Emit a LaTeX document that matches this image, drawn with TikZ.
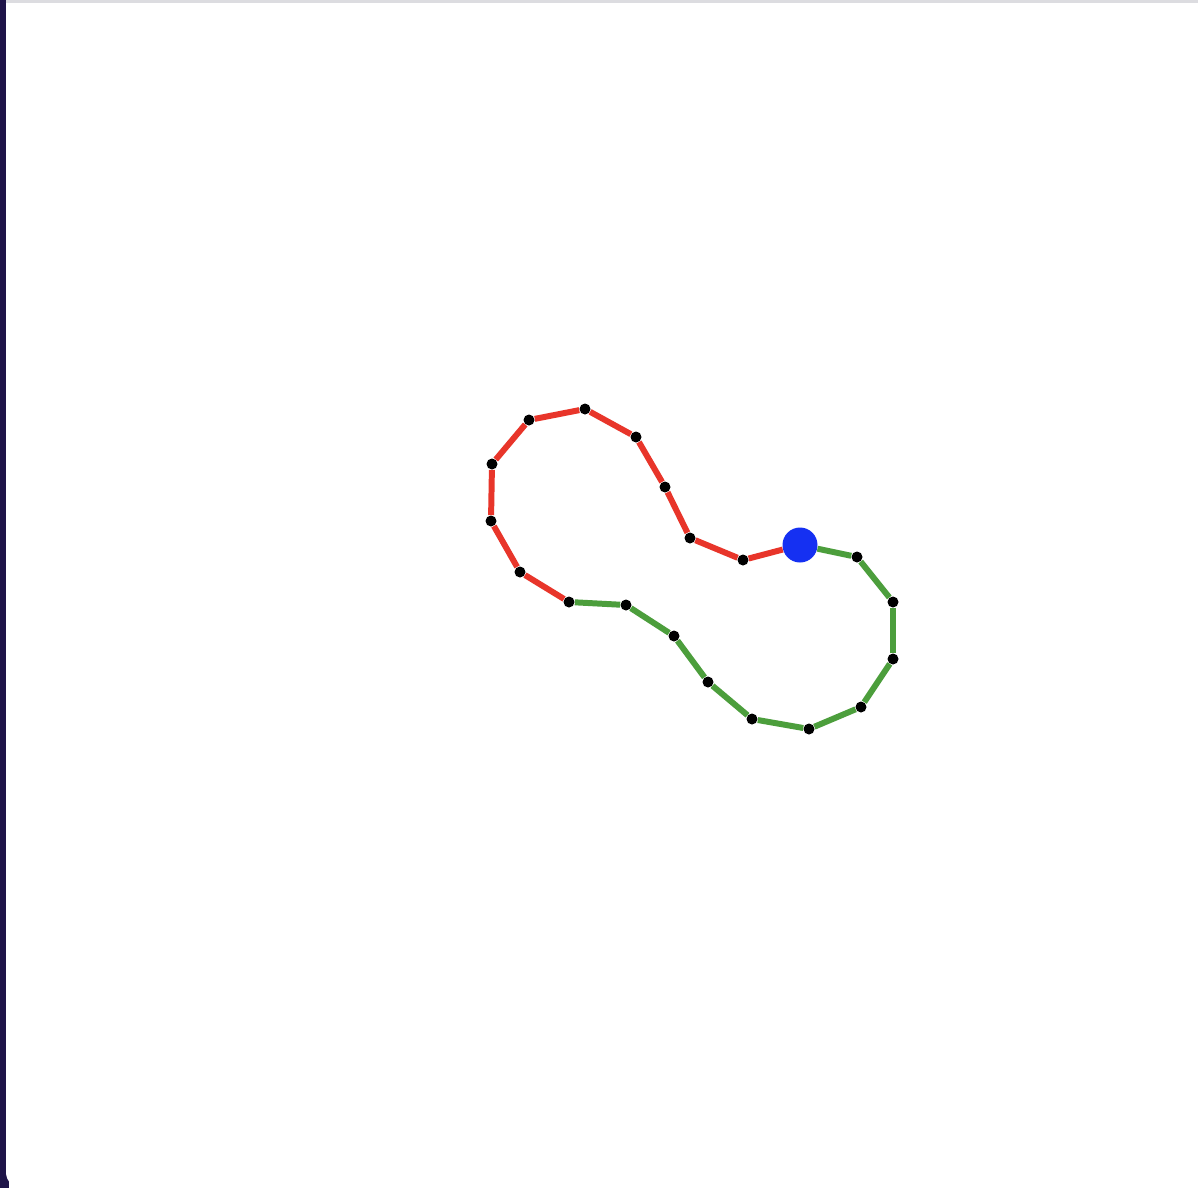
\documentclass[tikz,border=0pt]{standalone}
\usepackage{tikz}
\usepackage{xcolor}

\definecolor{loopred}{HTML}{E8352A}
\definecolor{loopgreen}{HTML}{4C9E3C}
\definecolor{startblue}{HTML}{1530F2}
\definecolor{frameleft}{HTML}{1E1448}
\definecolor{frametop}{HTML}{DCDCE0}

\begin{document}
\begin{tikzpicture}[
  x=0.02cm, y=-0.02cm,
  dot/.style={circle, fill=black, inner sep=0pt, minimum size=0.22cm},
  start/.style={circle, fill=startblue, inner sep=0pt, minimum size=0.7cm},
  redseg/.style={draw=loopred, line width=3.4pt},
  greenseg/.style={draw=loopgreen, line width=3.4pt}
]
% frame
\useasboundingbox (0,0) rectangle (1198,1188);
\fill[frameleft] (0,0) rectangle (9,1188);
\fill[white, rounded corners=9pt] (6,-20) rectangle (1220,1188);
\fill[white] (6,0) rectangle (1198,1150);
\fill[frametop] (6,0) rectangle (1198,2.5);

% points of the loop
\node[start] (b) at (800,545) {};
\foreach \n/\px/\py in {1/743/560, 2/690/538, 3/665/487, 4/636/437, 5/585/409,
    6/529/420, 7/492/464, 8/491/521, 9/520/572, 10/569/602,
    11/626/605, 12/674/636, 13/708/682, 14/752/719, 15/809/729,
    16/861/707, 17/893/659, 18/893/602, 19/857/557}
  \node[dot] (p\n) at (\px,\py) {};

% red half
\draw[redseg] (b) -- (p1);
\foreach \a/\z in {1/2, 2/3, 3/4, 4/5, 5/6, 6/7, 7/8, 8/9, 9/10}
  \draw[redseg] (p\a) -- (p\z);
% green half
\foreach \a/\z in {10/11, 11/12, 12/13, 13/14, 14/15, 15/16, 16/17, 17/18, 18/19}
  \draw[greenseg] (p\a) -- (p\z);
\draw[greenseg] (p19) -- (b);
\end{tikzpicture}
\end{document}
